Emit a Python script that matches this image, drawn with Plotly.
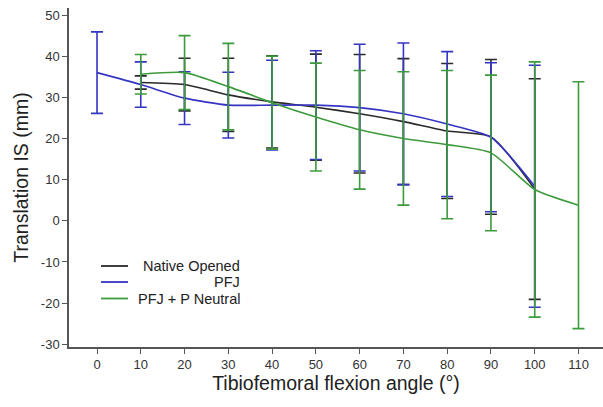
import plotly.graph_objects as go

# Flexion angles (deg)
angles_pfj = [0, 10, 20, 30, 40, 50, 60, 70, 80, 90, 100]
angles_native = [10, 20, 30, 40, 50, 60, 70, 80, 90, 100]
angles_pfjp = [10, 20, 30, 40, 50, 60, 70, 80, 90, 100, 110]

# Means (mm)
native_mean = [33.6, 33.1, 30.6, 28.9, 27.6, 26.0, 24.1, 21.8, 20.4, 7.7]
pfj_mean = [36.0, 33.1, 29.8, 28.1, 28.1, 28.1, 27.5, 26.0, 23.5, 20.3, 8.4]
pfjp_mean = [35.6, 36.0, 32.6, 28.7, 25.2, 22.1, 20.0, 18.5, 16.5, 7.6, 3.8]

# Standard deviations (mm)
native_sd = [1.6, 6.4, 8.9, 11.2, 12.9, 14.4, 15.3, 16.4, 18.8, 26.8]
pfj_sd = [9.9, 5.5, 6.4, 8.0, 10.9, 13.2, 15.4, 17.2, 17.6, 18.1, 29.4]
pfjp_sd = [4.8, 9.0, 10.5, 11.3, 13.1, 14.4, 16.2, 18.0, 18.9, 31.0, 30.0]

# Axis ticks
x_ticks = [0, 10, 20, 30, 40, 50, 60, 70, 80, 90, 100, 110]
y_ticks = [-30, -20, -10, 0, 10, 20, 30, 40, 50]
y_ticktext = ["-30", "-20", "-10", "0", "10", "20", "30", "40", "50"]

names = ["Native Opened", "PFJ", "PFJ + P Neutral"]
colors = {"Native Opened": "#2a2a2a", "PFJ": "#3535c4", "PFJ + P Neutral": "#3d9b3d"}

series = [
    ("Native Opened", angles_native, native_mean, native_sd),
    ("PFJ", angles_pfj, pfj_mean, pfj_sd),
    ("PFJ + P Neutral", angles_pfjp, pfjp_mean, pfjp_sd),
]

FONT = "Liberation Sans, Arial"

fig = go.Figure()
for name, xs, ys, sds in series:
    c = colors[name]
    fig.add_trace(go.Scatter(
        x=xs, y=ys, name=name, mode="lines",
        line=dict(color=c, width=1.6, shape="spline", smoothing=0.6),
        error_y=dict(type="data", array=sds, visible=True, color=c,
                     thickness=1.6, width=6),
        showlegend=False,
    ))

# Layout geometry (pixels)
W, H = 603, 407
ML, MR, MT, MB = 69, 0, 8, 60
pw, ph = W - ML - MR, H - MT - MB

def px_x(p):
    return (p - ML) / pw

def px_y(p):
    return (H - MB - p) / ph

# Manual legend (right-aligned labels like the original)
leg_rows = [266.0, 282.0, 298.5]
for name, yy in zip(names, leg_rows):
    fig.add_shape(type="line", xref="paper", yref="paper",
                  x0=px_x(101), x1=px_x(128), y0=px_y(yy), y1=px_y(yy),
                  line=dict(color=colors[name], width=1.8))
    fig.add_annotation(xref="paper", yref="paper", x=px_x(242), y=px_y(yy),
                       xanchor="right", yanchor="middle", text=name,
                       showarrow=False,
                       font=dict(family=FONT, size=14.5, color="#222"))

axis_common = dict(
    showline=True, linecolor="#555", linewidth=1.5,
    ticks="outside", ticklen=5, tickcolor="#555", tickwidth=1.2,
    showgrid=False, zeroline=False,
    tickfont=dict(family=FONT, size=13, color="#333"),
)

fig.update_layout(
    width=W, height=H,
    margin=dict(l=ML, r=MR, t=MT, b=MB),
    paper_bgcolor="white", plot_bgcolor="white",
    xaxis=dict(range=[-6.4, 115.6], tickmode="array", tickvals=x_ticks,
               title=dict(text="Tibiofemoral flexion angle (°)", standoff=5,
                          font=dict(family=FONT, size=19.5, color="#222")),
               **axis_common),
    yaxis=dict(range=[-30.66, 51.7], tickmode="array", tickvals=y_ticks,
               ticktext=y_ticktext,
               title=dict(text="Translation IS (mm)", standoff=7,
                          font=dict(family=FONT, size=19.5, color="#222")),
               **axis_common),
)

fig.write_html("out.html")
